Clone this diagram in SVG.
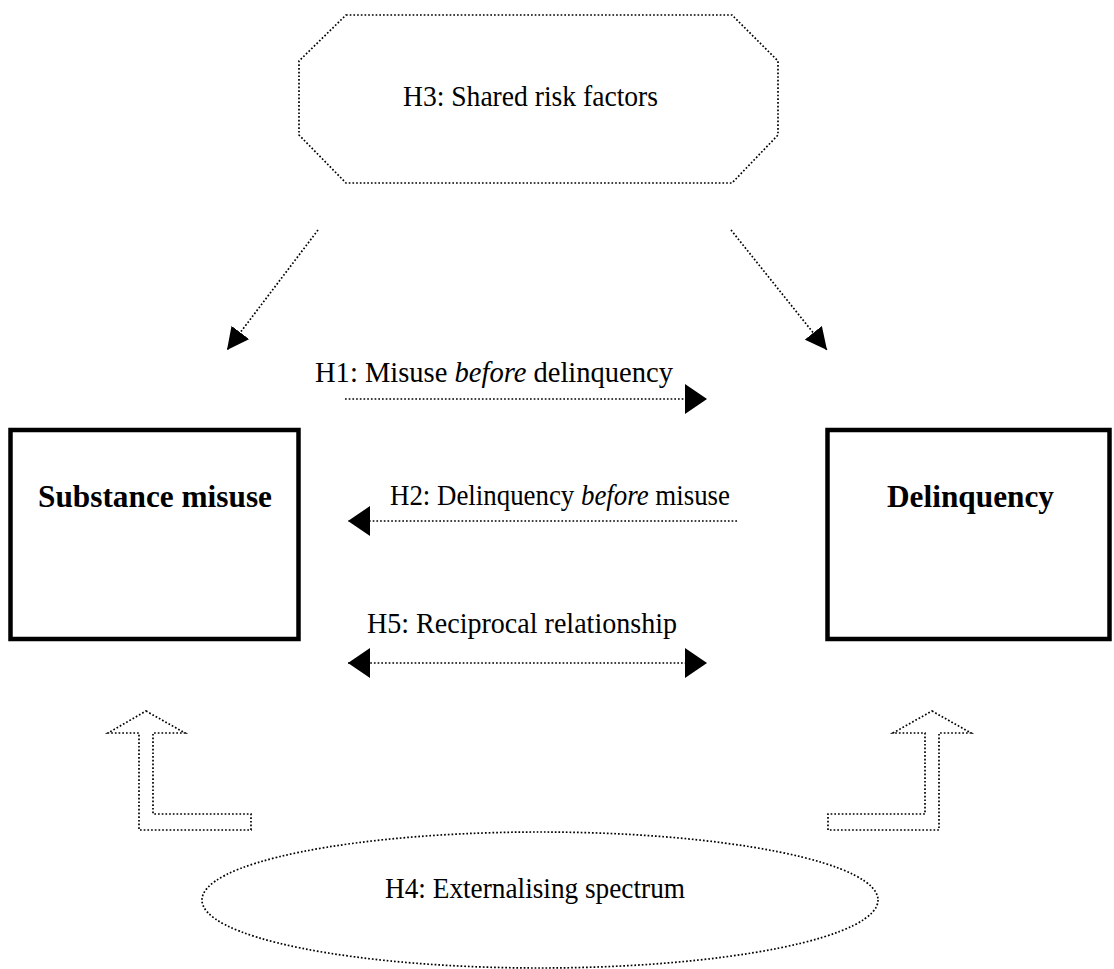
<svg xmlns="http://www.w3.org/2000/svg" width="1114" height="969" viewBox="0 0 1114 969">
<style>
.dot{fill:none;stroke:#000;stroke-width:1.7;stroke-dasharray:1.7 2}
.box{fill:#fff;stroke:#000;stroke-width:4.5}
.lbl{font-family:"Liberation Serif","Times New Roman",serif;font-size:29px;fill:#000}
.bold{font-family:"Liberation Serif","Times New Roman",serif;font-size:31px;font-weight:bold;fill:#000}
</style>
<defs>
<marker id="ah" viewBox="0 0 10 10" refX="10" refY="5" markerWidth="22" markerHeight="30" markerUnits="userSpaceOnUse" orient="auto-start-reverse" preserveAspectRatio="none">
<path d="M0,0 L10,5 L0,10 z" fill="#000"/>
</marker>
<marker id="ahd" viewBox="0 0 10 10" refX="10" refY="5" markerWidth="22" markerHeight="22" markerUnits="userSpaceOnUse" orient="auto" preserveAspectRatio="none">
<path d="M0,0 L10,5 L0,10 z" fill="#000"/>
</marker>
</defs>
<rect width="1114" height="969" fill="#fff"/>
<g id="h3">
<polygon class="dot" points="346,15 732,15 778,61 778,135 732,183 346,183 299,135 299,61"/>
<text class="lbl" x="403" y="106" textLength="255" lengthAdjust="spacingAndGlyphs" font-size="32">H3: Shared risk factors</text>
</g>
<g id="substance">
<rect class="box" x="10.5" y="430" width="288" height="209"/>
<text class="bold" x="38" y="507" textLength="234" lengthAdjust="spacingAndGlyphs">Substance misuse</text>
</g>
<g id="delinquency">
<rect class="box" x="827.5" y="430" width="282" height="209"/>
<text class="bold" x="887" y="507" textLength="167" lengthAdjust="spacingAndGlyphs">Delinquency</text>
</g>
<g id="h4">
<ellipse class="dot" cx="540" cy="900" rx="338" ry="68"/>
<text class="lbl" x="535" y="898" text-anchor="middle" textLength="300" lengthAdjust="spacingAndGlyphs">H4: Externalising spectrum</text>
</g>
<g id="connectors">
<line class="dot" x1="318" y1="230" x2="227" y2="350" marker-end="url(#ahd)"/>
<line class="dot" x1="731" y1="230" x2="827" y2="350" marker-end="url(#ahd)"/>
<line class="dot" x1="345" y1="399" x2="707" y2="399" marker-end="url(#ah)"/>
<line class="dot" x1="737" y1="521" x2="348" y2="521" marker-end="url(#ah)"/>
<line class="dot" x1="348" y1="663" x2="707" y2="663" marker-start="url(#ah)" marker-end="url(#ah)"/>
<polygon class="dot" points="146,711 185,733 153,733 153,814 251,814 251,830 139,830 139,733 108,733"/>
<polygon class="dot" points="932,711 971,733 939,733 939,830 828,830 828,814 925,814 925,733 893,733"/>
</g>
<g id="labels">
<text class="lbl" x="315" y="382" textLength="358" lengthAdjust="spacingAndGlyphs">H1: Misuse <tspan font-style="italic">before</tspan> delinquency</text>
<text class="lbl" x="390" y="505" textLength="340" lengthAdjust="spacingAndGlyphs">H2: Delinquency <tspan font-style="italic">before</tspan> misuse</text>
<text class="lbl" x="367" y="633" textLength="310" lengthAdjust="spacingAndGlyphs">H5: Reciprocal relationship</text>
</g>
</svg>
